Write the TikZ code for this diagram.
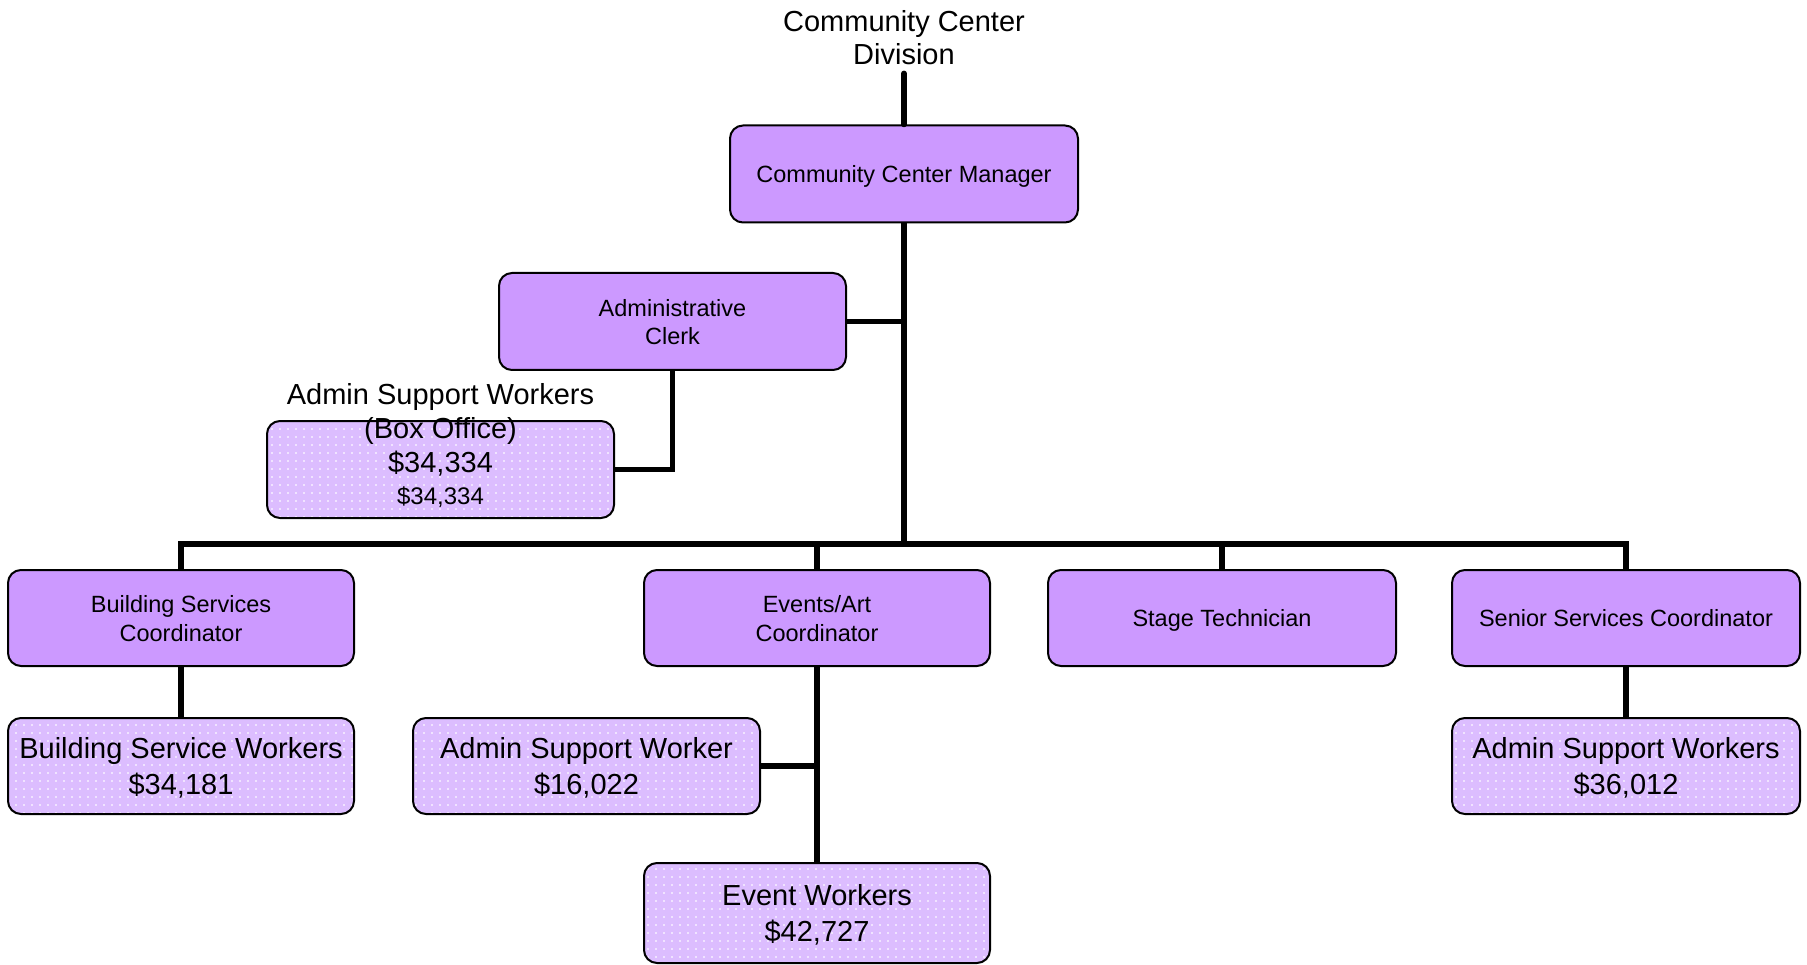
\documentclass[tikz,border=0pt]{standalone}
\usepackage{fontspec}
\setmainfont{Liberation Sans}
\usetikzlibrary{patterns}

\definecolor{rolefill}{HTML}{CC99FF}
\definecolor{staffill}{HTML}{DCBDFF}

% small white dots laid over the staff boxes
\pgfdeclarepatternformonly{staffdots}{\pgfqpoint{-1.2pt}{-1.2pt}}{\pgfqpoint{1.2pt}{1.2pt}}{\pgfqpoint{8pt}{8pt}}{%
  \pgfpathcircle{\pgfqpoint{0pt}{0pt}}{1.2pt}\pgfusepath{fill}}

\tikzset{
  basebox/.style={rectangle, rounded corners=13pt,
    minimum width=346pt, minimum height=96pt, align=center, inner sep=2pt,
    text depth=0pt},
  rolebox/.style={basebox, draw=black, line width=2pt, fill=rolefill,
    font=\fontsize{23.5}{29}\selectfont},
  staffbox/.style={basebox, fill=staffill,
    postaction={pattern=staffdots, pattern color=white!80!staffill},
    postaction={draw=black, line width=2pt},
    font=\fontsize{29}{36}\selectfont},
  bigtext/.style={align=center, font=\fontsize{29}{34}\selectfont},
  link/.style={line width=5.5pt, line join=miter},
}

\begin{document}
\begin{tikzpicture}[x=1pt, y=-1pt]
\useasboundingbox (0,0) rectangle (1807,965);

% heading
\node[bigtext, font=\fontsize{29}{33}\selectfont, inner sep=8pt] (title) at (904,38) {Community Center\\Division};

% management
\node[rolebox, minimum width=348pt, minimum height=97pt] (mgr) at (904,174) {Community Center Manager};
\node[rolebox, minimum width=347pt, minimum height=97pt] (clerk) at (672.5,321.5) {Administrative\\[-1pt]Clerk};
\node[staffbox, minimum width=347pt, minimum height=97pt] (bo) at (440.5,469.5) {};
\node[bigtext] (botext) at (440.5,446) {Admin Support Workers\\(Box Office)\\\$34,334\\[-2pt]{\fontsize{24}{29}\selectfont \$34,334}};

% coordinators
\node[rolebox] (bsc) at (181,618) {Building Services\\Coordinator};
\node[rolebox] (eac) at (817,618) {Events/Art\\Coordinator};
\node[rolebox, minimum width=348pt] (stage) at (1222,618) {Stage Technician};
\node[rolebox, minimum width=348pt] (ssc) at (1626,618) {Senior Services Coordinator};

% staff groups
\node[staffbox] (bsw) at (181,766) {Building Service Workers\\\$34,181};
\node[staffbox, minimum width=347pt] (asw) at (586.5,766) {Admin Support Worker\\\$16,022};
\node[staffbox, minimum height=100pt] (evw) at (817,913) {Event Workers\\\$42,727};
\node[staffbox, minimum width=348pt] (sasw) at (1626,766) {Admin Support Workers\\\$36,012};

\coordinate (bus) at (904,544);

% connectors
\draw[link, line cap=round] (title.south) -- (mgr.north);
\draw[link] (mgr.south) -- (bus);
\draw[link] (clerk.east) -- (clerk.east -| mgr.south);
\draw[link] (clerk.south) |- (bo.east);
\draw[link] (bus) -| (bsc.north);
\draw[link] (bus) -| (eac.north);
\draw[link] (bus) -| (stage.north);
\draw[link] (bus) -| (ssc.north);
\draw[link] (bsc.south) -- (bsw.north);
\draw[link] (eac.south) -- (evw.north);
\draw[link] (asw.east) -- (asw.east -| eac.south);
\draw[link] (ssc.south) -- (sasw.north);
\end{tikzpicture}
\end{document}
